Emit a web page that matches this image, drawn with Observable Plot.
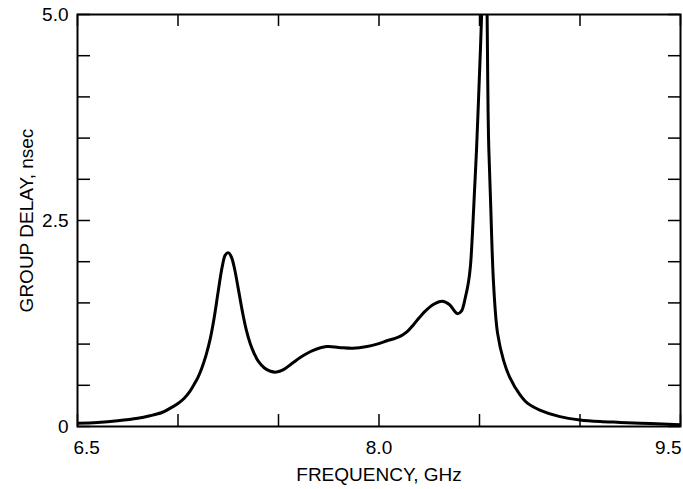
<!DOCTYPE html>
<html>
<head>
<meta charset="utf-8">
<script src="https://cdn.jsdelivr.net/npm/d3@7"></script>
<script src="https://cdn.jsdelivr.net/npm/@observablehq/plot@0.6"></script>
<style>
  html, body { margin: 0; padding: 0; background: #fff; }
  #chart svg { display: block; }
</style>
</head>
<body>
<div id="chart"></div>
<script>
// Frequency (GHz) and group delay (nsec)
const freq = [
  6.50, 6.60, 6.70, 6.80, 6.86, 6.92, 6.96, 7.00, 7.03, 7.06, 7.08, 7.10, 7.12, 7.14, 7.16, 7.18, 7.20, 7.22, 7.235, 7.25, 7.265, 7.28, 7.30, 7.32, 7.34, 7.36, 7.38, 7.40, 7.43, 7.46, 7.49,
  7.525, 7.57, 7.61, 7.67, 7.74, 7.80, 7.87, 7.94, 7.99, 8.04, 8.08, 8.11, 8.14, 8.17, 8.20, 8.23, 8.27, 8.315, 8.35, 8.39, 8.41, 8.43, 8.445, 8.455, 8.465, 8.475, 8.485,
  8.495, 8.505, 8.515, 8.525, 8.532, 8.537, 8.541, 8.545, 8.555, 8.57, 8.59, 8.62, 8.65, 8.70, 8.74, 8.80, 8.90, 9.00, 9.10, 9.20, 9.35, 9.50
];
const delay = [
  0.04, 0.05, 0.07, 0.10, 0.13, 0.17, 0.22, 0.28, 0.34, 0.43, 0.51, 0.60, 0.72, 0.87, 1.06, 1.32, 1.64, 1.94, 2.08, 2.11, 2.06, 1.93, 1.67, 1.40, 1.17, 1.00, 0.88, 0.79, 0.71, 0.67, 0.66,
  0.69, 0.77, 0.84, 0.92, 0.97, 0.96, 0.95, 0.97, 1.00, 1.04, 1.07, 1.10, 1.15, 1.23, 1.32, 1.40, 1.48, 1.52, 1.48, 1.37, 1.40, 1.57, 1.75, 1.95, 2.35, 2.85, 3.35,
  3.96, 4.60, 5.30, 5.80, 5.80, 5.20, 4.20, 3.50, 2.74, 1.73, 1.13, 0.80, 0.60, 0.39, 0.28, 0.20, 0.12, 0.08, 0.06, 0.05, 0.035, 0.02
];
const xTicks = [6.5, 7.0, 7.5, 8.0, 8.5, 9.0, 9.5];
const yTicks = [0, 0.5, 1.0, 1.5, 2.0, 2.5, 3.0, 3.5, 4.0, 4.5, 5.0];
const xTickLabels = [6.5, 8.0, 9.5];
const yTickLabels = [0, 2.5, 5.0];
const xTitle = "FREQUENCY, GHz";
const yTitle = "GROUP DELAY, nsec";

const data = freq.map((f, i) => ({f, d: delay[i]}));

const W = 683, H = 489;
const mL = 77, mR = 3, mT = 14, mB = 63;
const frameW = W - mL - mR, frameH = H - mT - mB;
const tickLen = 12;
const fmtX = d3.format(".1f");

const chart = Plot.plot({
  width: W,
  height: H,
  marginLeft: mL,
  marginRight: mR,
  marginTop: mT,
  marginBottom: mB,
  style: {fontFamily: "'Liberation Sans', Arial, Helvetica, sans-serif", fontSize: "19px", color: "#000", background: "#fff"},
  x: {domain: [6.5, 9.5]},
  y: {domain: [0, 5]},
  marks: [
    // inward ticks: bottom, top, left, right
    Plot.ruleX(xTicks, {stroke: "#000", strokeWidth: 1.5, insetTop: frameH - tickLen}),
    Plot.ruleX(xTicks, {stroke: "#000", strokeWidth: 1.5, insetBottom: frameH - tickLen}),
    Plot.ruleY(yTicks, {stroke: "#000", strokeWidth: 1.5, insetRight: frameW - tickLen - 1}),
    Plot.ruleY(yTicks, {stroke: "#000", strokeWidth: 1.5, insetLeft: frameW - tickLen}),
    Plot.line(data, {x: "f", y: "d", curve: "catmull-rom", stroke: "#000", strokeWidth: 3, clip: true}),
    Plot.frame({stroke: "#000", strokeWidth: 2}),
    Plot.axisX(xTickLabels.slice(0, 1), {tickSize: 0, tickPadding: 14, tickFormat: fmtX, textAnchor: "start", dx: -4, label: null}),
    Plot.axisX(xTickLabels.slice(1, 2), {
      tickSize: 0, tickPadding: 14, tickFormat: fmtX,
      label: xTitle, labelAnchor: "center", labelArrow: "none", labelOffset: 54
    }),
    Plot.axisX(xTickLabels.slice(2), {tickSize: 0, tickPadding: 14, tickFormat: fmtX, textAnchor: "end", dx: 1, label: null}),
    Plot.axisY(yTickLabels, {
      tickSize: 0, tickPadding: 9, tickFormat: d => d === 0 ? "0" : d3.format(".1f")(d),
      label: yTitle, labelAnchor: "center", labelArrow: "none", labelOffset: 58
    })
  ]
});
document.getElementById("chart").appendChild(chart);
</script>
</body>
</html>
